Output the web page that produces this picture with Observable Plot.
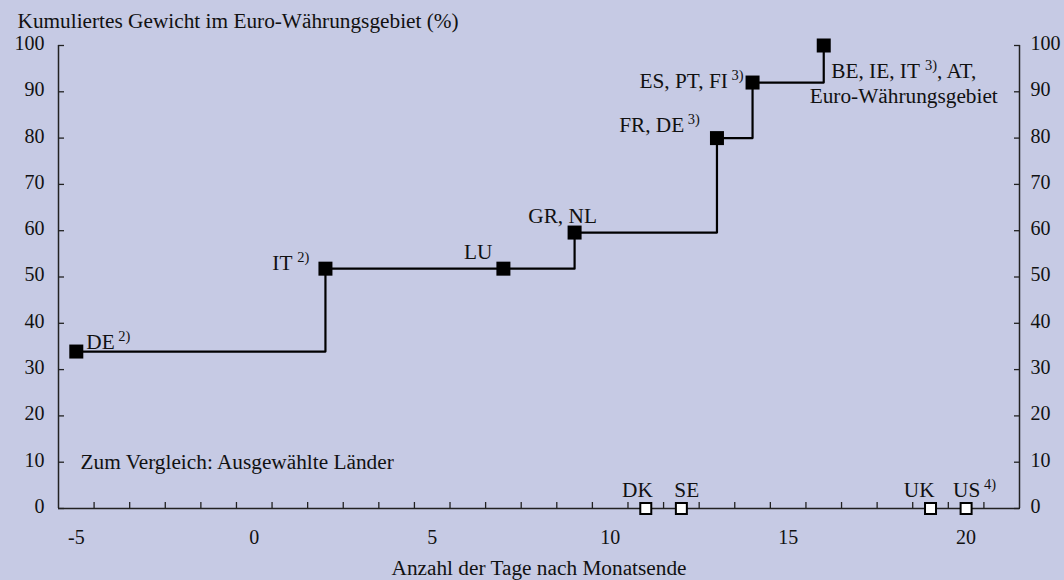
<!DOCTYPE html>
<html><head><meta charset="utf-8">
<script src="https://cdn.jsdelivr.net/npm/d3@7"></script>
<script src="https://cdn.jsdelivr.net/npm/@observablehq/plot@0.6"></script>
<style>
html,body{margin:0;padding:0;background:#c6cae4;}
#chart{width:1064px;height:580px;position:relative;}
</style></head><body><div id="chart"></div>
<script>
// ---- data ----
const euroDays    = [-5, 2, 7, 9, 13, 14, 16];
const euroWeights = [33.9, 51.8, 51.8, 59.6, 80.0, 92.0, 100.0];
const euroLabels  = ["DE^{ 2)}", "IT ^{2)}", "LU", "GR, NL", "FR, DE^{ 3)}", "ES, PT, FI^{ 3)}", "BE, IE, IT ^{3)}, AT,"];
const euroSecondLine = "Euro-Währungsgebiet";
const compDays    = [11, 12, 19, 20];
const compWeights = [0, 0, 0, 0];
const compLabels  = ["DK", "SE", "UK", "US^{ 4)}"];
const compNote    = "Zum Vergleich: Ausgewählte Länder";
const xTickLabels = [-5, 0, 5, 10, 15, 20];
const xCategoryEdges = d3.range(-4.5, 21, 1);
const yTicks      = [0, 10, 20, 30, 40, 50, 60, 70, 80, 90, 100];
const xDomain     = [-5.5, 21.5];
const yDomain     = [0, 100];
const titleText   = "Kumuliertes Gewicht im Euro-Währungsgebiet (%)";
const xAxisTitle  = "Anzahl der Tage nach Monatsende";

// ---- tables ----
const euro = euroDays.map((d, i) => ({day: d, w: euroWeights[i], label: euroLabels[i]}));
const comp = compDays.map((d, i) => ({day: d, w: compWeights[i], label: compLabels[i]}));

// label placement (px offsets from marker centre, baseline)
const euroLabelStyle = [
  {anchor: "start",  dx: 10,  dy: -3},
  {anchor: "end",    dx: -16, dy: 1},
  {anchor: "end",    dx: -11, dy: -10},
  {anchor: "middle", dx: -12, dy: -10},
  {anchor: "end",    dx: -17, dy: -6},
  {anchor: "end",    dx: -9,  dy: 5},
  {anchor: "middle", dx: 80,  dy: 32}
];
const compLabelStyle = [
  {anchor: "end",   dx: 7,   dy: -12},
  {anchor: "start", dx: -7,  dy: -12},
  {anchor: "end",   dx: 4,   dy: -12},
  {anchor: "start", dx: -13, dy: -12}
];

const ink = "#111";
const fs = 21.3;
const tickFs = 20;

const labelMarks = [];
euro.forEach((d, i) => {
  const s = euroLabelStyle[i];
  labelMarks.push(Plot.text([d], {x: "day", y: "w", text: "label", textAnchor: s.anchor, dx: s.dx, dy: s.dy, lineAnchor: "bottom", fontSize: fs, fill: ink}));
});
labelMarks.push(Plot.text([euro[euro.length - 1]], {x: "day", y: "w", text: () => euroSecondLine, textAnchor: "middle", dx: 80, dy: 57, lineAnchor: "bottom", fontSize: fs, fill: ink}));
comp.forEach((d, i) => {
  const s = compLabelStyle[i];
  labelMarks.push(Plot.text([d], {x: "day", y: "w", text: "label", textAnchor: s.anchor, dx: s.dx, dy: s.dy, lineAnchor: "bottom", fontSize: fs, fill: ink}));
});

const chart = Plot.plot({
  width: 1064,
  height: 580,
  marginTop: 45,
  marginBottom: 72,
  marginLeft: 58,
  marginRight: 45,
  style: {background: "transparent", fontFamily: "'Liberation Serif', 'Times New Roman', serif", fontSize: "20px", color: ink},
  x: {domain: xDomain},
  y: {domain: yDomain},
  marks: [
    // frame lines
    Plot.ruleX(xDomain, {y1: yDomain[0], y2: yDomain[1], stroke: "#222", strokeWidth: 1.5}),
    Plot.ruleY([yDomain[0]], {x1: xDomain[0], x2: xDomain[1], stroke: "#222", strokeWidth: 1.5}),
    // x category ticks (pointing up)
    Plot.axisX(xCategoryEdges, {anchor: "bottom", tickSize: 6, dy: -6, tickFormat: () => "", label: null, stroke: "#222", strokeWidth: 1.3}),
    Plot.axisX(xTickLabels, {anchor: "bottom", tickSize: 0, tickPadding: 21, tickFormat: d => String(d), label: null, fontSize: tickFs, fill: ink}),
    // y ticks (pointing inward)
    Plot.axisY(yTicks, {anchor: "left", tickSize: 6, dx: 6, tickFormat: () => "", label: null, stroke: "#222", strokeWidth: 1.3}),
    Plot.axisY(yTicks, {anchor: "left", tickSize: 0, tickPadding: 14, dy: -2, tickFormat: d => String(d), label: null, fontSize: tickFs, fill: ink}),
    Plot.axisY(yTicks, {anchor: "right", tickSize: 6, dx: -6, tickFormat: () => "", label: null, stroke: "#222", strokeWidth: 1.3}),
    Plot.axisY(yTicks, {anchor: "right", tickSize: 0, tickPadding: 11, dy: -2, tickFormat: d => String(d), label: null, fontSize: tickFs, fill: ink}),
    // step line
    Plot.line(euro, {x: "day", y: "w", curve: "step-after", stroke: "#000", strokeWidth: 2.2}),
    Plot.dot(euro, {x: "day", y: "w", symbol: "square", r: 7.9, fill: "#000", stroke: "none"}),
    Plot.dot(comp, {x: "day", y: "w", symbol: "square", r: 6.2, fill: "#fff", stroke: "#000", strokeWidth: 2}),
    ...labelMarks,
    Plot.text([compNote], {frameAnchor: "bottom-left", dx: 22, dy: -40, textAnchor: "start", lineAnchor: "bottom", fontSize: fs, fill: ink}),
    Plot.text([titleText], {frameAnchor: "top-left", dx: -41, dy: -18, textAnchor: "start", lineAnchor: "bottom", fontSize: fs, fill: ink}),
    Plot.text([xAxisTitle], {frameAnchor: "bottom", dy: 66, lineAnchor: "bottom", fontSize: fs, fill: ink})
  ]
});

// superscripts: turn "^{...}" into raised tspans
d3.select(chart).selectAll("text").each(function() {
  const t = this.textContent;
  if (!t || t.indexOf("^{") < 0) return;
  const parts = t.split(/(\^\{[^}]*\})/);
  const sel = d3.select(this);
  sel.text(null);
  let raised = false;
  parts.forEach(p => {
    if (!p) return;
    const m = p.match(/^\^\{([^}]*)\}$/);
    if (m) {
      sel.append("tspan").attr("font-size", 14.5).attr("dy", -8).attr("xml:space", "preserve").style("white-space", "pre").text(m[1]);
      raised = true;
    } else {
      const ts = sel.append("tspan").style("white-space", "pre").text(p);
      if (raised) { ts.attr("dy", 8); raised = false; }
    }
  });
});

document.getElementById("chart").appendChild(chart);
</script>
</body></html>
